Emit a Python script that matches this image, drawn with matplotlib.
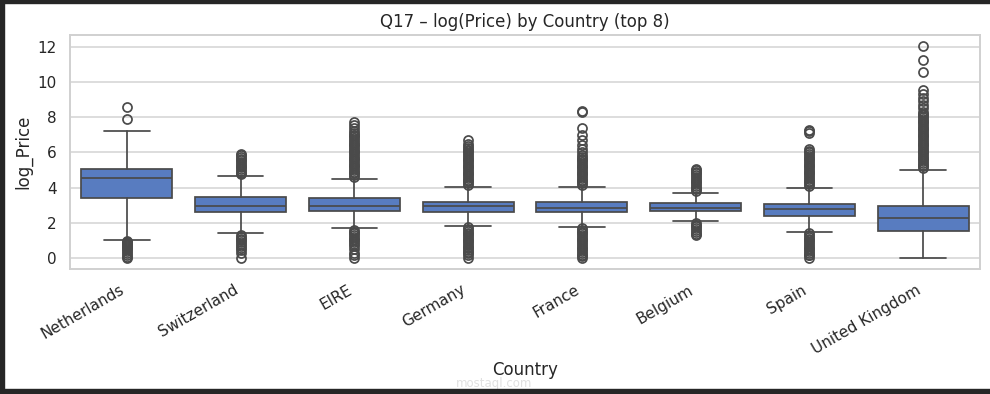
import matplotlib
matplotlib.use("Agg")
import matplotlib.pyplot as plt
from matplotlib.patches import Rectangle
import seaborn as sns

sns.set_theme(style="whitegrid")
plt.rcParams["font.family"] = ["DejaVu Sans"]

countries = ["Netherlands", "Switzerland", "EIRE", "Germany", "France",
             "Belgium", "Spain", "United Kingdom"]
q1 = [3.43, 2.64, 2.68, 2.62, 2.62, 2.68, 2.40, 1.51]
median = [4.56, 2.93, 2.93, 2.93, 2.87, 2.87, 2.79, 2.25]
q3 = [5.07, 3.49, 3.43, 3.21, 3.21, 3.11, 3.06, 2.93]
whisker_low = [1.02, 1.40, 1.68, 1.81, 1.75, 2.08, 1.47, 0.0]
whisker_high = [7.24, 4.68, 4.51, 4.06, 4.06, 3.72, 4.00, 5.02]

fliers_high = [
    [7.87, 8.55],
    [4.75, 4.85, 4.95, 5.05, 5.15, 5.25, 5.35, 5.45, 5.55, 5.65, 5.75, 5.85, 5.9],
    [4.6, 4.7, 4.8, 4.9, 5.0, 5.1, 5.2, 5.3, 5.4, 5.5, 5.6, 5.7, 5.8, 5.9, 6.0,
     6.1, 6.2, 6.3, 6.4, 6.5, 6.6, 6.7, 6.8, 6.9, 7.0, 7.1, 7.2, 7.4, 7.55, 7.75],
    [4.15, 4.25, 4.35, 4.45, 4.55, 4.65, 4.75, 4.85, 4.95, 5.05, 5.15, 5.25, 5.35,
     5.45, 5.55, 5.65, 5.75, 5.85, 5.95, 6.05, 6.15, 6.25, 6.35, 6.5, 6.7],
    [4.15, 4.25, 4.35, 4.45, 4.55, 4.65, 4.75, 4.85, 4.95, 5.05, 5.15, 5.25, 5.35,
     5.45, 5.55, 5.65, 5.75, 5.85, 6.0, 6.2, 6.4, 6.7, 7.0, 7.4, 8.3, 8.37],
    [3.8, 3.9, 4.0, 4.1, 4.2, 4.3, 4.4, 4.5, 4.6, 4.7, 4.8, 4.9, 5.0, 5.05],
    [4.1, 4.2, 4.3, 4.4, 4.5, 4.6, 4.7, 4.8, 4.9, 5.0, 5.1, 5.2, 5.3, 5.4, 5.5,
     5.6, 5.7, 5.8, 5.9, 6.0, 6.1, 6.2, 7.1, 7.2, 7.25],
    [5.1, 5.2, 5.3, 5.4, 5.5, 5.6, 5.7, 5.8, 5.9, 6.0, 6.1, 6.2, 6.3, 6.4, 6.5,
     6.6, 6.7, 6.8, 6.9, 7.0, 7.1, 7.2, 7.3, 7.4, 7.5, 7.6, 7.7, 7.8, 7.9, 8.0,
     8.1, 8.2, 8.3, 8.5, 8.7, 8.9, 9.1, 9.3, 9.55, 10.55, 11.25, 12.05],
]
fliers_low = [
    [0.95, 0.9, 0.85, 0.8, 0.75, 0.7, 0.65, 0.6, 0.5, 0.4, 0.3, 0.2, 0.05, 0.0],
    [1.3, 1.2, 1.1, 1.0, 0.9, 0.8, 0.7, 0.6, 0.45, 0.3, 0.0],
    [1.6, 1.5, 1.4, 1.3, 1.2, 1.1, 1.0, 0.9, 0.8, 0.7, 0.5, 0.3, 0.15, 0.0],
    [1.75, 1.65, 1.55, 1.45, 1.35, 1.25, 1.15, 1.05, 0.95, 0.85, 0.75, 0.65, 0.55,
     0.45, 0.35, 0.3, 0.15, 0.0],
    [1.7, 1.6, 1.5, 1.4, 1.3, 1.2, 1.1, 1.0, 0.9, 0.8, 0.7, 0.6, 0.5, 0.4, 0.3,
     0.2, 0.1, 0.0],
    [2.0, 1.9, 1.8, 1.7, 1.6, 1.5, 1.35, 1.3],
    [1.4, 1.3, 1.2, 1.1, 1.0, 0.9, 0.8, 0.7, 0.6, 0.5, 0.4, 0.3, 0.2, 0.15, 0.0],
    [],
]

fill = "#587cc0"
line = "#4a4a4a"

fig = plt.figure(figsize=(9.9, 3.94), dpi=100)
ax = fig.add_axes([70 / 990, 125 / 394, 910 / 990, 234 / 394])

stats = []
for i, c in enumerate(countries):
    stats.append(dict(label=c, q1=q1[i], med=median[i], q3=q3[i],
                      whislo=whisker_low[i], whishi=whisker_high[i],
                      fliers=fliers_high[i] + fliers_low[i]))

ax.bxp(stats, positions=list(range(len(countries))), widths=0.8,
       capwidths=0.4, patch_artist=True, showfliers=True,
       boxprops=dict(facecolor=fill, edgecolor=line, linewidth=1.25),
       medianprops=dict(color=line, linewidth=1.25),
       whiskerprops=dict(color=line, linewidth=1.25),
       capprops=dict(color=line, linewidth=1.25),
       flierprops=dict(marker="o", markerfacecolor="none",
                       markeredgecolor=line, markersize=6.5,
                       markeredgewidth=1.25))

ax.set_xlim(-0.5, len(countries) - 0.5)
ax.set_ylim(-0.62, 12.66)
ax.set_yticks([0, 2, 4, 6, 8, 10, 12])
ax.set_xticks(list(range(len(countries))))
ax.set_xticklabels(countries, rotation=30, ha="right")
ax.xaxis.grid(False)
ax.yaxis.grid(True, color="#d3d3d3", linewidth=1.1)
for s in ax.spines.values():
    s.set_color("#d0d0d0")
    s.set_linewidth(1.4)
ax.tick_params(labelsize=11, colors="#262626")
ax.set_title("Q17 – log(Price) by Country (top 8)", fontsize=12, color="#262626")
ax.set_ylabel("log_Price", fontsize=12, color="#262626")
ax.set_xlabel("Country", fontsize=12, color="#262626", labelpad=3)

fig.text(494 / 990, 1 - 383 / 394, "mostaql.com", ha="center", va="center",
         fontsize=8.5, color="#e0e0e0", zorder=-1)

dark = "#262626"
fig.patches.append(Rectangle((0, 0), 4 / 990, 1, transform=fig.transFigure,
                             color=dark, zorder=10))
fig.patches.append(Rectangle((0, 1 - 3 / 394), 1, 3 / 394,
                             transform=fig.transFigure, color=dark, zorder=10))
fig.patches.append(Rectangle((0, 0), 1, 5 / 394, transform=fig.transFigure,
                             color=dark, zorder=10))

fig.savefig("out.png", dpi=100)
